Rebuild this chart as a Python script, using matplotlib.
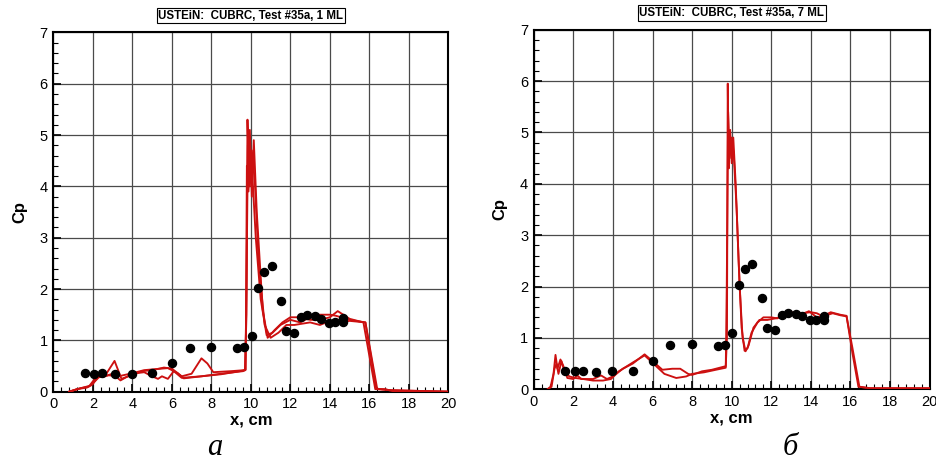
import numpy as np
import matplotlib
matplotlib.use("Agg")
import matplotlib.pyplot as plt
from matplotlib.ticker import MultipleLocator

plt.rcParams['font.family'] = ['Liberation Sans', 'DejaVu Sans']

# measured pressure coefficient (same data on both panels)
exp_x = [1.6, 2.06, 2.48, 3.14, 3.97, 5.0, 6.0, 6.9, 7.97, 9.3, 9.64, 10.04,
         10.36, 10.68, 11.05, 11.51, 11.78, 12.17, 12.52, 12.84, 13.23, 13.55,
         13.96, 14.28, 14.65, 14.65]
exp_cp = [0.36, 0.35, 0.36, 0.34, 0.35, 0.36, 0.55, 0.86, 0.88, 0.85, 0.87, 1.09,
          2.03, 2.34, 2.44, 1.77, 1.19, 1.15, 1.45, 1.49, 1.47, 1.42,
          1.34, 1.35, 1.35, 1.43]

# computed Cp, case "1 ML"
a1_x = [0.8, 1.2, 1.7, 2.0, 2.3, 2.6, 3.1, 3.45, 3.8, 4.5, 5.0, 5.6, 6.0, 6.5, 7.0,
        7.5, 7.8, 8.1, 9.0, 9.7, 9.78, 9.83, 9.9, 9.95, 10.05, 10.15, 10.3, 10.6,
        10.85, 11.2, 11.6, 12.0, 12.5, 13.0, 13.5, 14.0, 14.4, 15.0, 15.7, 16.0,
        16.3, 16.8, 17.2, 20.0]
a1_cp = [0.0, 0.05, 0.08, 0.15, 0.32, 0.3, 0.6, 0.25, 0.3, 0.4, 0.42, 0.47, 0.45,
         0.3, 0.35, 0.65, 0.55, 0.38, 0.4, 0.42, 1.5, 5.3, 4.2, 5.1, 3.8, 4.9, 3.5,
         1.6, 1.05, 1.2, 1.35, 1.45, 1.45, 1.4, 1.4, 1.45, 1.57, 1.42, 1.35, 0.7,
         0.05, 0.05, 0.01, 0.0]
a2_x = [0.8, 1.3, 1.8, 2.2, 2.6, 3.0, 3.4, 4.0, 4.6, 5.0, 5.3, 5.5, 5.8, 6.1, 6.5,
        7.5, 8.5, 9.6, 9.72, 9.78, 9.85, 9.95, 10.05, 10.2, 10.4, 10.7, 11.0, 11.4,
        11.8, 12.2, 13.0, 13.5, 14.0, 14.5, 15.0, 15.8, 16.4, 17.0, 20.0]
a2_cp = [0.0, 0.06, 0.1, 0.3, 0.3, 0.35, 0.22, 0.35, 0.38, 0.3, 0.25, 0.3, 0.25,
         0.4, 0.27, 0.3, 0.35, 0.4, 0.42, 2.0, 4.8, 4.0, 4.7, 4.1, 2.5, 1.3, 1.05,
         1.15, 1.3, 1.3, 1.35, 1.3, 1.38, 1.35, 1.38, 1.35, 0.05, 0.03, 0.0]
a3_x = [0.8, 1.4, 1.9, 2.3, 2.8, 3.3, 4.0, 4.6, 5.2, 5.8, 6.3, 6.6, 7.5, 8.5, 9.6,
        9.74, 9.8, 9.88, 9.97, 10.08, 10.25, 10.5, 10.8, 11.1, 11.5, 12.0, 12.5,
        13.0, 13.5, 14.0, 14.3, 15.0, 15.8, 16.35, 17.0, 20.0]
a3_cp = [0.0, 0.07, 0.12, 0.28, 0.32, 0.3, 0.36, 0.42, 0.44, 0.46, 0.36, 0.26,
         0.3, 0.34, 0.41, 0.43, 4.4, 3.9, 4.6, 4.2, 3.0, 1.8, 1.1, 1.15, 1.3, 1.4,
         1.35, 1.45, 1.5, 1.5, 1.48, 1.4, 1.35, 0.06, 0.03, 0.0]

# computed Cp, case "7 ML"
b1_x = [0.7, 0.85, 1.0, 1.1, 1.2, 1.35, 1.5, 1.7, 2.0, 2.2, 2.4, 3.0, 3.4, 3.7,
        4.0, 4.5, 5.0, 5.6, 6.0, 6.5, 7.0, 7.4, 7.8, 8.0, 8.5, 9.0, 9.7, 9.76,
        9.8, 9.85, 9.92, 10.0, 10.08, 10.2, 10.35, 10.5, 10.65, 10.8, 11.0, 11.3,
        11.6, 12.0, 12.3, 12.6, 13.0, 13.5, 14.0, 14.3, 14.6, 15.0, 15.5, 15.8,
        16.1, 16.4, 17.0, 20.0]
b1_cp = [0.0, 0.05, 0.3, 0.67, 0.4, 0.58, 0.45, 0.22, 0.2, 0.27, 0.2, 0.2, 0.27,
         0.2, 0.25, 0.4, 0.5, 0.68, 0.55, 0.38, 0.4, 0.4, 0.3, 0.28, 0.35, 0.38,
         0.45, 1.0, 5.95, 4.3, 5.05, 4.4, 4.9, 4.0, 2.5, 1.2, 0.75, 0.8, 1.1, 1.3,
         1.4, 1.4, 1.38, 1.45, 1.5, 1.48, 1.5, 1.48, 1.42, 1.5, 1.45, 1.43, 0.7,
         0.05, 0.02, 0.02]
b2_x = [0.7, 0.9, 1.05, 1.15, 1.25, 1.4, 1.55, 1.8, 2.1, 2.5, 3.0, 3.5, 3.9, 4.3,
        5.0, 5.6, 6.1, 6.6, 7.2, 7.7, 8.0, 8.6, 9.2, 9.7, 9.75, 9.82, 9.9, 9.98,
        10.1, 10.25, 10.4, 10.55, 10.7, 10.85, 11.1, 11.4, 11.8, 12.2, 12.6, 13.0,
        13.5, 13.9, 14.3, 14.7, 15.1, 15.5, 15.8, 16.1, 16.45, 17.0, 20.0]
b2_cp = [0.0, 0.05, 0.4, 0.5, 0.3, 0.55, 0.35, 0.25, 0.22, 0.2, 0.17, 0.17, 0.2,
         0.35, 0.52, 0.66, 0.48, 0.3, 0.22, 0.25, 0.3, 0.33, 0.38, 0.42, 2.0, 5.4,
         4.5, 4.9, 4.6, 3.5, 2.0, 1.0, 0.74, 0.85, 1.2, 1.35, 1.35, 1.38, 1.42,
         1.45, 1.45, 1.52, 1.4, 1.43, 1.48, 1.44, 1.42, 0.8, 0.05, 0.02, 0.02]

titles = ["USTEiN:  CUBRC, Test #35a, 1 ML", "USTEiN:  CUBRC, Test #35a, 7 ML"]
letters = ["а", "б"]
letter_x = [215, 790]   # pixel column of the panel letters

fig = plt.figure(figsize=(9.37, 4.63), dpi=100)
ax_a = fig.add_axes([0.0569, 0.154, 0.4216, 0.776])
ax_b = fig.add_axes([0.5696, 0.1592, 0.4226, 0.7767])

panels = [
    (ax_a, [(a1_x, a1_cp), (a2_x, a2_cp), (a3_x, a3_cp)]),
    (ax_b, [(b1_x, b1_cp), (b2_x, b2_cp)]),
]

for i, (ax, curves) in enumerate(panels):
    for cx, cy in curves:
        ax.plot(cx, cy, color='#cc1010', lw=1.35, zorder=3)
    ax.plot(exp_x, exp_cp, 'o', color='black', ms=5.8, zorder=4)

    ax.set_xlim(0, 20)
    ax.set_ylim(0, 7)
    ax.xaxis.set_major_locator(MultipleLocator(2))
    ax.xaxis.set_minor_locator(MultipleLocator(0.4))
    ax.yaxis.set_major_locator(MultipleLocator(1))
    ax.yaxis.set_minor_locator(MultipleLocator(0.2))
    ax.tick_params(which='both', direction='in', top=False, right=False,
                   labelsize=10.5, color='black')
    ax.tick_params(which='major', length=6, width=1.2, pad=4)
    ax.tick_params(which='minor', length=3.5, width=0.8)
    ax.grid(True, which='major', color='#4a4a4a', lw=0.9)
    for sp in ax.spines.values():
        sp.set_linewidth(1.5)

    ax.set_xlabel('x, cm', fontsize=12, fontweight='bold', labelpad=1)
    ax.set_ylabel('Cp', fontsize=12, fontweight='bold', labelpad=9)
    ax.set_title(titles[i], fontsize=8.3, fontweight='bold', pad=10,
                 bbox=dict(facecolor='white', edgecolor='black', lw=0.8,
                           boxstyle='square,pad=0.15'))
    fig.text(letter_x[i] / 937, 8 / 463, letters[i], ha='center',
             va='baseline', fontsize=22, style='italic',
             family='Liberation Serif')

fig.savefig('out.png', dpi=100)
